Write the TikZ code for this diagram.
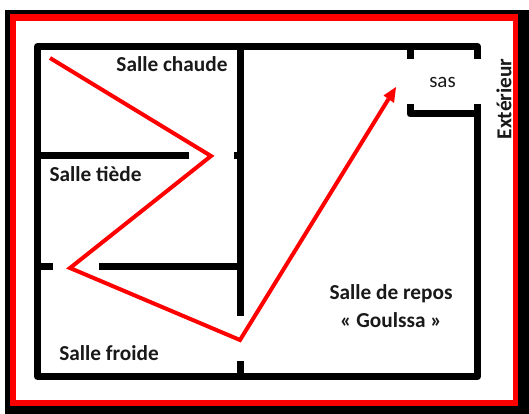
\documentclass[tikz,border=0pt]{standalone}
\usepackage{fontspec}
\setmainfont{Carlito}
\tikzset{
  wall/.style={line width=7pt,black,line cap=butt,line join=round},
  route/.style={line width=4pt,red,line join=miter},
  label/.style={font=\fontsize{21.3}{24}\selectfont\bfseries,text=black!90,inner sep=0pt,align=center},
  smalllabel/.style={font=\fontsize{21}{24}\selectfont,text=black!90,inner sep=0pt,align=center}
}
\begin{document}
\begin{tikzpicture}[x=1pt,y=-1pt]
\useasboundingbox (0,0) rectangle (529,414);
\fill[white] (0,0) rectangle (529,414);
\fill[black] (5,10) rectangle (529,414);
\fill[red] (10,14.5) rectangle (518,406);
\fill[white] (16,21) rectangle (513,400);
% walls
\draw[wall] (240.5,58) -- (240.5,46.5) -- (37.5,46.5) -- (37.5,376.5) -- (240.5,376.5);
\draw[wall] (240.5,46.5) -- (477.5,46.5) -- (477.5,59);
\draw[wall] (410,46.5) -- (410,59);
\draw[wall] (410,104) -- (410,114) -- (477.5,114);
\draw[wall] (477.5,104) -- (477.5,376.5) -- (240.5,376.5);
\draw[wall] (240.5,46.5) -- (240.5,316);
\draw[wall] (240.5,361) -- (240.5,376.5);
\draw[wall] (37.5,155.5) -- (189,155.5);
\draw[wall] (234,155.5) -- (240.5,155.5);
\draw[wall] (37.5,266.5) -- (53,266.5);
\draw[wall] (99,266.5) -- (240.5,266.5);
% route
\coordinate (r1) at (50,58);
\coordinate (r2) at (211,156);
\coordinate (r3) at (70,268);
\coordinate (r4) at (240,340);
\coordinate (r5) at (396,87);
\draw[route] (r1) -- (r2) -- (r3) -- (r4) -- (388.5,99);
\fill[red] (r5) -- (383.5,95.5) -- (394,103) -- cycle;
% labels
\node[label] (chaude) at (172,64.5) {Salle chaude};
\node[label] (tiede) at (95.5,174.5) {Salle tiède};
\node[label] (froide) at (109,353) {Salle froide};
\node[label] (repos) at (391,294) {Salle de repos};
\node[label] (goulssa) at (391,320) {« Goulssa »};
\node[smalllabel] (sas) at (442.5,82) {sas};
\node[label,rotate=90] (ext) at (504,99) {Extérieur};
\end{tikzpicture}
\end{document}
